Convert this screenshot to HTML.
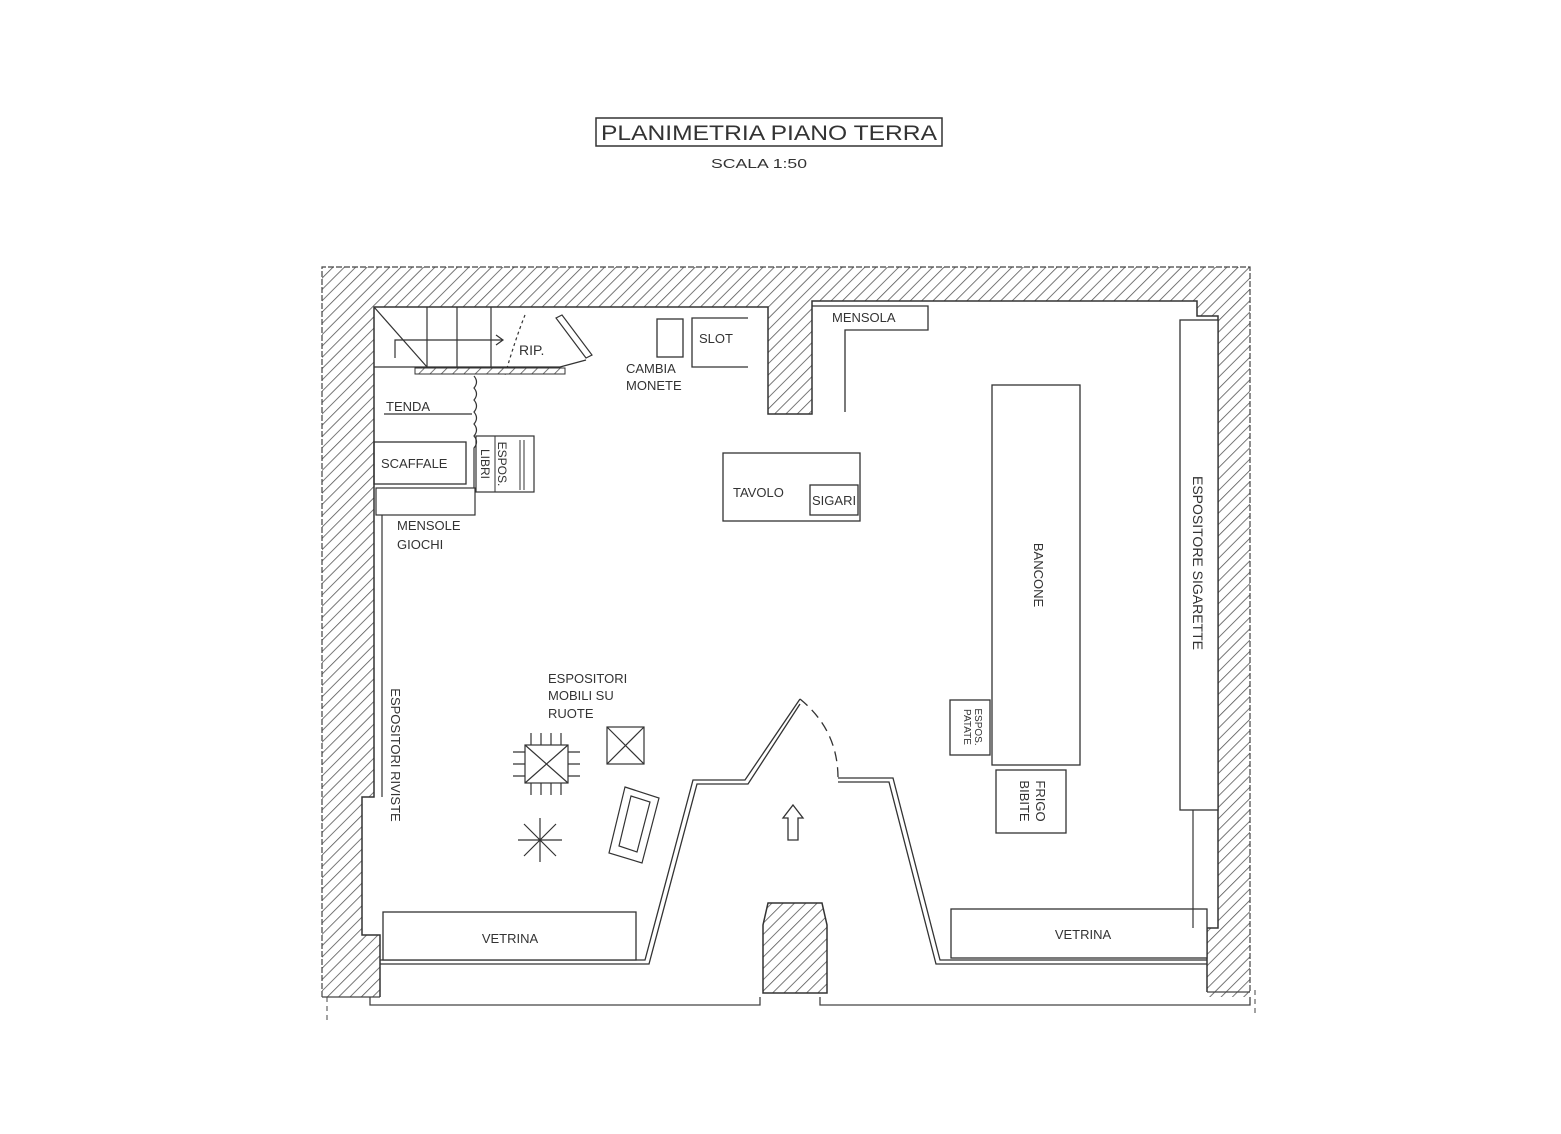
<!DOCTYPE html>
<html><head><meta charset="utf-8"><style>
html,body{margin:0;padding:0;background:#fff}
svg{display:block}
text{font-family:"Liberation Sans",sans-serif;fill:#333}
</style></head><body>
<svg width="1561" height="1134" viewBox="0 0 1561 1134" xmlns="http://www.w3.org/2000/svg">
<defs>
<pattern id="h" patternUnits="userSpaceOnUse" width="8" height="8" patternTransform="rotate(45)">
<rect width="8" height="8" fill="#fff"/><line x1="0" y1="0" x2="0" y2="8" stroke="#555" stroke-width="1.6"/>
</pattern>
</defs>
<!-- title -->
<rect x="596" y="118" width="346" height="28" fill="none" stroke="#333" stroke-width="1.5"/>
<text x="769" y="140" font-size="21" text-anchor="middle" textLength="336" lengthAdjust="spacingAndGlyphs">PLANIMETRIA  PIANO  TERRA</text>
<text x="759" y="168" font-size="13" text-anchor="middle" textLength="96" lengthAdjust="spacingAndGlyphs">SCALA  1:50</text>

<!-- walls -->
<rect x="322" y="267" width="928" height="730" fill="url(#h)"/>
<polyline points="322,997 322,267 1250,267 1250,992" fill="none" stroke="#444" stroke-width="1.2" stroke-dasharray="6 2"/>
<polygon points="374,307 768,307 768,414 812,414 812,301 1197,301 1197,316 1218,316 1218,928 1207,928 1207,998 380,998 380,935 362,935 362,797 374,797" fill="#fff"/>
<polyline points="380,997 380,935 362,935 362,797 374,797 374,307 768,307 768,414 812,414 812,301 1197,301 1197,316 1218,316 1218,928 1207,928 1207,992" fill="none" stroke="#333" stroke-width="1.5"/>
<line x1="322" y1="997" x2="380" y2="997" stroke="#444" stroke-width="1.2"/>
<line x1="1207" y1="992" x2="1250" y2="992" stroke="#444" stroke-width="1.2"/>
<!-- central pillar -->
<polygon points="768,903 822,903 827,925 827,993 763,993 763,925" fill="url(#h)" stroke="#333" stroke-width="1.5"/>
<!-- dashed side lines -->
<line x1="327" y1="997" x2="327" y2="1022" stroke="#444" stroke-dasharray="5 4"/>
<line x1="1255" y1="990" x2="1255" y2="1015" stroke="#444" stroke-dasharray="5 4"/>
<!-- bottom bracket -->
<polyline points="370,997 370,1005 760,1005 760,997" fill="none" stroke="#444" stroke-width="1.3"/>
<polyline points="820,997 820,1005 1250,1005 1250,997" fill="none" stroke="#444" stroke-width="1.3"/>

<!-- storefront double line -->
<g fill="none" stroke="#333" stroke-width="1.3">
<polyline points="380,960 645,960 693,780 745,780 800,699"/>
<polyline points="380,964 649,964 697,784 748,784 800,704"/>
<polyline points="838,778 893,778 940,960 1207,960"/>
<polyline points="838,782 889,782 936,964 1207,964"/>
<path d="M800,699 Q838,730 838,778" stroke-dasharray="10 6"/>
</g>
<!-- vetrine -->
<rect x="383" y="912" width="253" height="48" fill="#fff" stroke="#333" stroke-width="1.3"/>
<text x="510" y="943" font-size="13" text-anchor="middle">VETRINA</text>
<rect x="951" y="909" width="256" height="49" fill="#fff" stroke="#333" stroke-width="1.3"/>
<text x="1083" y="939" font-size="13" text-anchor="middle">VETRINA</text>
<!-- entrance arrow -->
<polygon points="793,805 803,818 798,818 798,840 788,840 788,818 783,818" fill="none" stroke="#333" stroke-width="1.3"/>

<!-- right side -->
<g fill="#fff" stroke="#333" stroke-width="1.3">
<rect x="992" y="385" width="88" height="380"/>
<rect x="1180" y="320" width="38" height="490"/>
<rect x="996" y="770" width="70" height="63"/>
<rect x="950" y="700" width="40" height="55"/>
<rect x="723" y="453" width="137" height="68"/>
<rect x="810" y="485" width="48" height="30"/>
</g>
<line x1="1193" y1="810" x2="1193" y2="928" stroke="#333" stroke-width="1.2"/>
<text transform="translate(1034,575) rotate(90)" font-size="13" text-anchor="middle">BANCONE</text>
<text transform="translate(1193,563) rotate(90)" font-size="14" text-anchor="middle">ESPOSITORE  SIGARETTE</text>
<text transform="translate(1036,801) rotate(90)" font-size="13" text-anchor="middle">FRIGO</text>
<text transform="translate(1020,801) rotate(90)" font-size="13" text-anchor="middle">BIBITE</text>
<text transform="translate(975,727) rotate(90)" font-size="10" text-anchor="middle">ESPOS.</text>
<text transform="translate(964,727) rotate(90)" font-size="10" text-anchor="middle">PATATE</text>
<text x="733" y="497" font-size="13">TAVOLO</text>
<text x="812" y="505" font-size="13">SIGARI</text>

<!-- mensola -->
<polyline points="812,306 928,306 928,330 845,330 845,412" fill="none" stroke="#333" stroke-width="1.3"/>
<text x="832" y="322" font-size="13">MENSOLA</text>
<!-- slot / cambia -->
<rect x="657" y="319" width="26" height="38" fill="none" stroke="#333" stroke-width="1.3"/>
<polyline points="748,318 692,318 692,367 748,367" fill="none" stroke="#333" stroke-width="1.3"/>
<text x="699" y="343" font-size="13">SLOT</text>
<text x="626" y="373" font-size="13">CAMBIA</text>
<text x="626" y="390" font-size="13">MONETE</text>

<!-- stairs -->
<g fill="none" stroke="#333" stroke-width="1.2">
<line x1="374" y1="367" x2="560" y2="367"/>
<line x1="427" y1="307" x2="427" y2="367"/>
<line x1="457" y1="307" x2="457" y2="367"/>
<line x1="491" y1="307" x2="491" y2="367"/>
<line x1="374" y1="307" x2="427" y2="367"/>
<polyline points="395,358 395,340 502,340"/>
<polyline points="496,335 503,340 496,345"/>
<path d="M525,315 Q515,340 505,375" stroke-dasharray="3 3"/>
<polygon points="556,318 562,315 592,355 586,358"/>
<line x1="560" y1="367" x2="586" y2="360"/>
</g>
<rect x="415" y="368" width="150" height="6" fill="url(#h)" stroke="#333" stroke-width="1"/>
<text x="519" y="355" font-size="14">RIP.</text>
<!-- tenda -->
<line x1="384" y1="414" x2="472" y2="414" stroke="#333" stroke-width="1.2"/>
<text x="386" y="411" font-size="13">TENDA</text>
<path d="M474,376 q5,6 0,12 q5,6 0,12 q5,6 0,12 q5,6 0,12 q5,6 0,12 q5,6 0,12 l0,40" fill="none" stroke="#333" stroke-width="1.2"/>
<!-- scaffale / espos libri -->
<rect x="374" y="442" width="92" height="42" fill="none" stroke="#333" stroke-width="1.3"/>
<text x="381" y="468" font-size="13">SCAFFALE</text>
<rect x="476" y="436" width="58" height="56" fill="none" stroke="#333" stroke-width="1.2"/>
<line x1="495" y1="436" x2="495" y2="492" stroke="#333"/>
<line x1="520" y1="440" x2="520" y2="490" stroke="#333"/>
<line x1="524" y1="440" x2="524" y2="490" stroke="#333"/>
<text transform="translate(481,464) rotate(90)" font-size="12" text-anchor="middle">LIBRI</text>
<text transform="translate(498,464) rotate(90)" font-size="12" text-anchor="middle">ESPOS.</text>
<rect x="376" y="488" width="99" height="27" fill="none" stroke="#333" stroke-width="1.2"/>
<line x1="382" y1="515" x2="382" y2="797" stroke="#333" stroke-width="1.2"/>
<text x="397" y="530" font-size="13">MENSOLE</text>
<text x="397" y="549" font-size="13">GIOCHI</text>
<text transform="translate(391,755) rotate(90)" font-size="13" text-anchor="middle">ESPOSITORI  RIVISTE</text>

<!-- mobile displays -->
<text x="548" y="683" font-size="13">ESPOSITORI</text>
<text x="548" y="700" font-size="13">MOBILI  SU</text>
<text x="548" y="718" font-size="13">RUOTE</text>
<g fill="none" stroke="#333" stroke-width="1.2">
<rect x="525" y="745" width="43" height="38"/>
<line x1="525" y1="745" x2="568" y2="783"/><line x1="568" y1="745" x2="525" y2="783"/>
<path d="M531,733v12M541,733v12M551,733v12M561,733v12M531,783v12M541,783v12M551,783v12M561,783v12M513,752h12M513,764h12M513,776h12M568,752h12M568,764h12M568,776h12"/>
<rect x="607" y="727" width="37" height="37"/>
<line x1="607" y1="727" x2="644" y2="764"/><line x1="644" y1="727" x2="607" y2="764"/>
<polygon points="625,787 659,798 642,863 609,853"/>
<polygon points="631,796 650,802 637,852 619,846"/>
<path d="M540,818L540,862M518,840L562,840M524,824L556,856M556,824L524,856"/>
</g>
</svg>
</body></html>
